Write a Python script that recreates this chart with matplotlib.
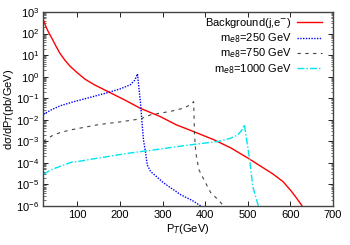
import matplotlib
matplotlib.use("Agg")
import matplotlib.pyplot as plt
import numpy as np

plt.rcParams['font.family'] = ['Liberation Sans', 'DejaVu Sans']

bg_pt = [20, 25, 30, 35, 40, 50, 59, 70, 83, 100, 118, 140, 177, 210, 248, 295, 331, 380, 420, 460, 500, 536, 560, 583, 602, 615, 628]
bg_y = [430, 230, 140, 90, 60, 25, 12, 6, 3, 1.5, 0.76, 0.42, 0.18, 0.085, 0.034, 0.014, 0.006, 0.0025, 1.2e-3, 5e-4, 1.7e-4, 6e-5, 3e-5, 1.35e-5, 5e-6, 2.3e-6, 1e-6]

m250_pt = [20, 40, 60, 90, 130, 170, 200, 224, 235, 241, 248, 255, 260, 264, 272, 295, 302, 343, 370, 390]
m250_y = [0.018, 0.03, 0.045, 0.068, 0.11, 0.18, 0.27, 0.42, 0.7, 1.35, 0.063, 1.2e-3, 3e-4, 8e-5, 4e-5, 1.6e-5, 1.2e-5, 3.3e-6, 1.8e-6, 1e-6]

m750_pt = [20, 40, 60, 87, 150, 200, 248, 272, 320, 350, 365, 373, 375, 378, 385, 400, 413, 430, 444]
m750_y = [1.0e-3, 1.8e-3, 2.6e-3, 3.5e-3, 6e-3, 8e-3, 0.011, 0.017, 0.025, 0.035, 0.05, 0.07, 2e-3, 3e-4, 5e-5, 1.3e-5, 4.2e-6, 2e-6, 1e-6]

m1000_pt = [20, 40, 60, 87, 100, 150, 224, 295, 331, 380, 432, 460, 477, 487, 492, 504, 512, 518, 525]
m1000_y = [3e-5, 5e-5, 7e-5, 1.1e-4, 1.15e-4, 1.7e-4, 2.9e-4, 4.4e-4, 5.6e-4, 7.5e-4, 1e-3, 1.4e-3, 2e-3, 3.5e-3, 6e-3, 1.7e-4, 8e-6, 3e-6, 1e-6]

labels = ['Background(j,e$^{-}$)', 'm$_{e8}$=250 GeV', 'm$_{e8}$=750 GeV', 'm$_{e8}$=1000 GeV']

fig = plt.figure(figsize=(3.5, 2.45), dpi=100)
ax = fig.add_axes([0.124, 0.159, 0.827, 0.792])

ax.plot(bg_pt, bg_y, color='#ff0000', lw=1.0, label=labels[0])
ax.plot(m250_pt, m250_y, color='#0000ff', lw=1.0, ls=(0, (1, 1)), label=labels[1])
ax.plot(m750_pt, m750_y, color='#444444', lw=0.8, ls=(0, (3, 4)), label=labels[2])
ax.plot(m1000_pt, m1000_y, color='#00e5ee', lw=1.0, ls=(0, (5, 1.5, 1, 1.5)), label=labels[3])

ax.set_yscale('log')
ax.set_xlim(20, 700)
ax.set_ylim(1e-6, 1e3)
ax.set_xticks([100, 200, 300, 400, 500, 600, 700])
ax.set_yticks([10.0**k for k in range(-6, 4)])
ax.yaxis.set_minor_locator(matplotlib.ticker.LogLocator(base=10, subs=[2,3,4,5,6,7,8,9]))
ax.yaxis.set_minor_formatter(matplotlib.ticker.NullFormatter())
ax.tick_params(which='both', direction='in', top=True, right=True, labelsize=8)
ax.tick_params(which='major', length=3.5, width=0.6, pad=3)
ax.tick_params(which='minor', length=1.8, width=0.4)
for s in ax.spines.values():
    s.set_linewidth(1.0)
    s.set_color('#444444')

ax.set_xlabel('P$_T$(GeV)', fontsize=8, labelpad=1)
ax.set_ylabel('d\u03c3/dP$_T$(pb/GeV)', fontsize=8, labelpad=0)

leg = ax.legend(loc='upper right', frameon=False, fontsize=8, markerfirst=False,
                handlelength=2.2, handletextpad=0.5, labelspacing=0.12,
                borderaxespad=0.0, borderpad=0.2, bbox_to_anchor=(0.97, 0.99))
for t in leg.get_texts():
    t.set_ha('right')

fig.savefig('out.png', dpi=100)
